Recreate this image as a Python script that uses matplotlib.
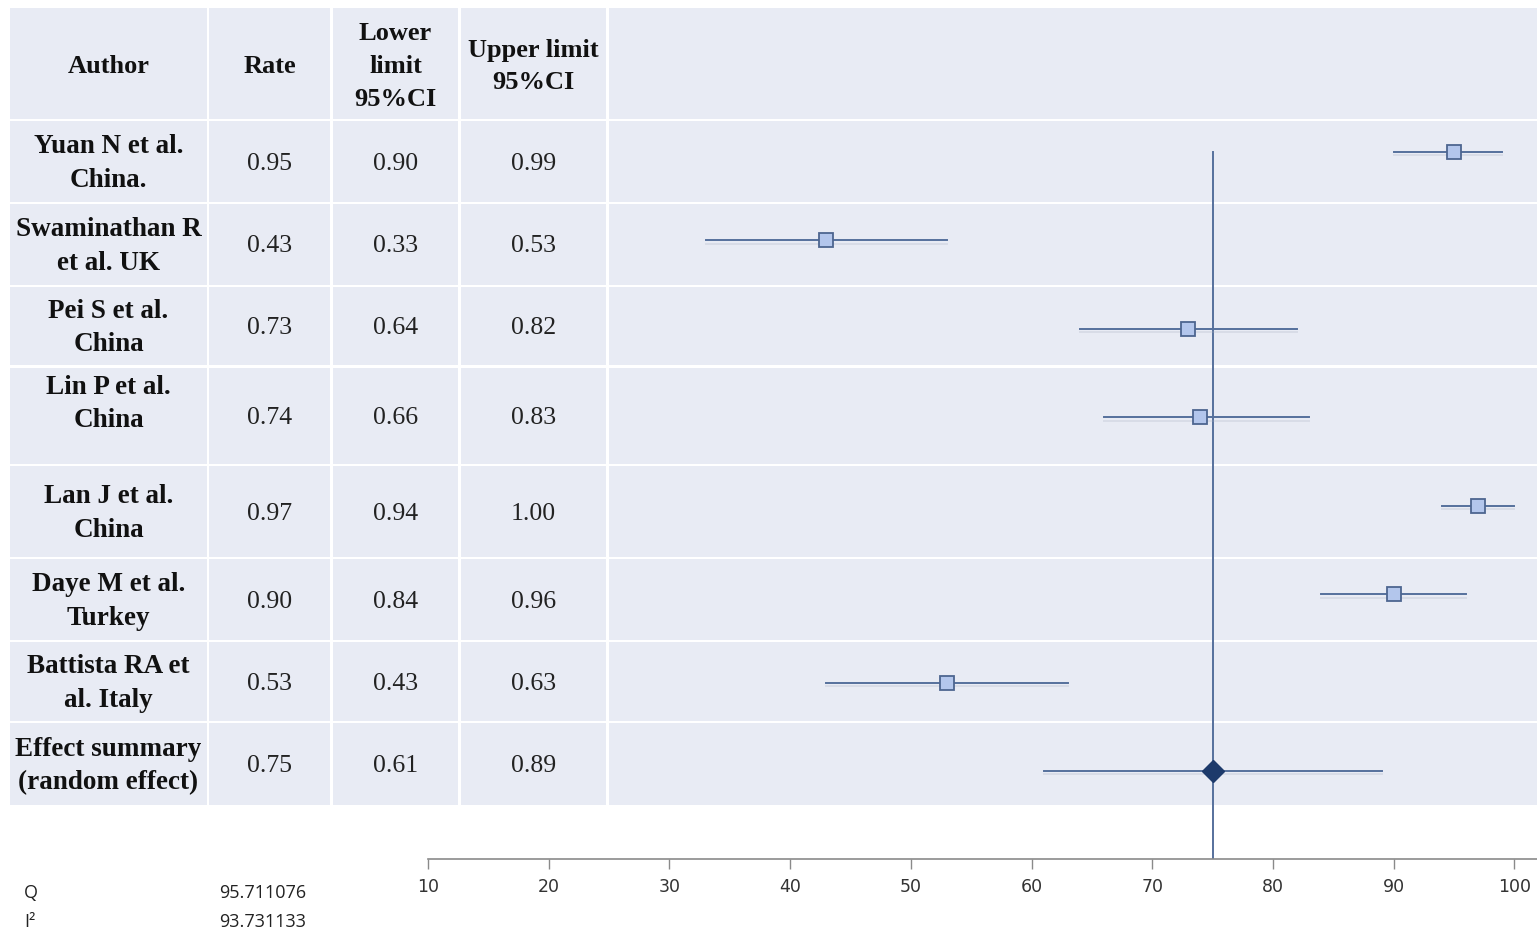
import matplotlib
matplotlib.use("Agg")
import matplotlib.pyplot as plt
from matplotlib.patches import Rectangle
import matplotlib.patheffects as pe

# study data
authors = ["Yuan N et al.\nChina.", "Swaminathan R\net al. UK", "Pei S et al.\nChina",
           "Lin P et al.\nChina", "Lan J et al.\nChina", "Daye M et al.\nTurkey",
           "Battista RA et\nal. Italy", "Effect summary\n(random effect)"]
rates = [0.95, 0.43, 0.73, 0.74, 0.97, 0.90, 0.53, 0.75]
lower = [0.90, 0.33, 0.64, 0.66, 0.94, 0.84, 0.43, 0.61]
upper = [0.99, 0.53, 0.82, 0.83, 1.00, 0.96, 0.63, 0.89]
headers = ["Author", "Rate", "Lower\nlimit\n95%CI", "Upper limit\n95%CI"]
q_stat = "95.711076"
i2_stat = "93.731133"
x_ticks = [10, 20, 30, 40, 50, 60, 70, 80, 90, 100]

W, H = 1537, 933
fig = plt.figure(figsize=(W / 100, H / 100), dpi=100)

# table layer in pixel coordinates
bg = fig.add_axes([0, 0, 1, 1])
bg.set_xlim(0, W)
bg.set_ylim(H, 0)
bg.axis("off")

cell_bg = "#e8ebf4"
col_edges = [(10, 207), (209, 330), (333, 458), (461, 606), (609, W)]
row_edges = [(8, 119), (121, 202), (204, 285), (287, 365), (368, 464),
             (466, 557), (559, 640), (642, 721), (723, 805)]
for y0, y1 in row_edges:
    for x0, x1 in col_edges:
        bg.add_patch(Rectangle((x0, y0), x1 - x0, y1 - y0, facecolor=cell_bg,
                               edgecolor="none", zorder=0))

serif = "Liberation Serif"
hy0, hy1 = row_edges[0]
for (x0, x1), h in zip(col_edges, headers):
    bg.text((x0 + x1) / 2, (hy0 + hy1) / 2 + 3, h, ha="center", va="center",
            fontsize=19, fontweight="bold", family=serif, linespacing=1.55,
            color="#111111")

for i, (a, r, lo, up) in enumerate(zip(authors, rates, lower, upper)):
    y0, y1 = row_edges[i + 1]
    yc = (y0 + y1) / 2 + 2
    ya = yc - 14 if i == 3 else yc
    bg.text(sum(col_edges[0]) / 2, ya, a, ha="center", va="center",
            fontsize=19.5, fontweight="bold", family=serif, linespacing=1.45,
            color="#111111")
    for (x0, x1), v in zip(col_edges[1:4], (r, lo, up)):
        bg.text((x0 + x1) / 2, yc, f"{v:.2f}", ha="center", va="center",
                fontsize=18.5, family=serif, color="#222222")

# heterogeneity stats
sans = "Open Sans"
for y, lab, val in ((893, "Q", q_stat), (922, "I²", i2_stat)):
    bg.text(24, y, lab, ha="left", va="center", fontsize=13, family=sans,
            color="#222222")
    bg.text(219, y, val, ha="left", va="center", fontsize=13, family=sans,
            color="#222222")

# forest plot layer
px_left, px_bottom, px_top = 428, 859, 108
first_row_px, row_step_px = 152, 88.43
ymax = (px_bottom - first_row_px) / row_step_px
ymin = (px_top - first_row_px) / row_step_px
x_per_px = 10 / 120.7
ax = fig.add_axes([px_left / W, 1 - px_bottom / H, (W - px_left) / W,
                   (px_bottom - px_top) / H])
ax.set_xlim(10, 10 + (W - px_left) * x_per_px)
ax.set_ylim(ymax, ymin)
ax.patch.set_alpha(0)
for s in ("top", "right", "left"):
    ax.spines[s].set_visible(False)
ax.spines["bottom"].set_color("#8a8a8a")
ax.spines["bottom"].set_linewidth(1.2)
ax.set_yticks([])
ax.set_xticks(x_ticks)
ax.tick_params(axis="x", direction="out", length=7, width=1, color="#8a8a8a",
               labelsize=12.5, labelcolor="#333333", pad=7)
for lab in ax.get_xticklabels():
    lab.set_family("DejaVu Sans")

line_col = "#56709c"
shadow = [pe.SimpleLineShadow(offset=(0, -2.5), shadow_color="#a7aebf", alpha=0.25),
          pe.Normal()]
pooled = rates[-1] * 100
ax.plot([pooled, pooled], [0, ymax], color=line_col, lw=1.4, zorder=2)

n = len(rates)
for i, (r, lo, up) in enumerate(zip(rates, lower, upper)):
    ax.plot([lo * 100, up * 100], [i, i], color=line_col, lw=1.4, zorder=3,
            path_effects=shadow)
    if i == n - 1:
        ax.plot(r * 100, i, marker="D", ms=11, mfc="#1d3a6b", mec="#1d3a6b", zorder=4)
    else:
        ax.plot(r * 100, i, marker="s", ms=10, mfc="#b3c6ec", mec="#4d6590",
                mew=1.3, zorder=4)

fig.savefig("out.png", dpi=100, facecolor="white")
